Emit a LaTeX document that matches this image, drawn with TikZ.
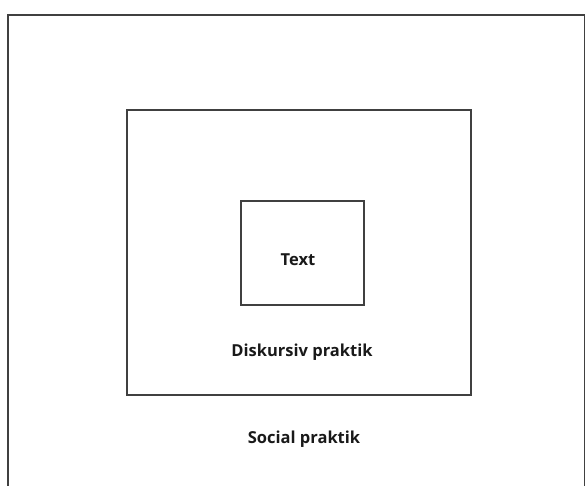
\documentclass[tikz,border=0pt]{standalone}
\usepackage{fontspec}
\setmainfont{Open Sans}
\begin{document}
\begin{tikzpicture}[x=1pt,y=-1pt,
  frame/.style={draw=black!75,line width=1.3pt},
  lbl/.style={font=\fontsize{16.5}{19}\selectfont\bfseries, text=black!90, inner sep=0pt}]
\useasboundingbox (0,0) rectangle (585,485);
\fill[white] (0,0) rectangle (585,485);
\draw[frame] (8,15) rectangle (584.3,490);
\draw[frame] (127,110) rectangle (471,395);
\draw[frame] (241,201) rectangle (364,305);
\node[lbl] (text) at (298,260) {Text};
\node[lbl] (disk) at (302,352) {Diskursiv praktik};
\node[lbl] (soc) at (304,439) {Social praktik};
\end{tikzpicture}
\end{document}
